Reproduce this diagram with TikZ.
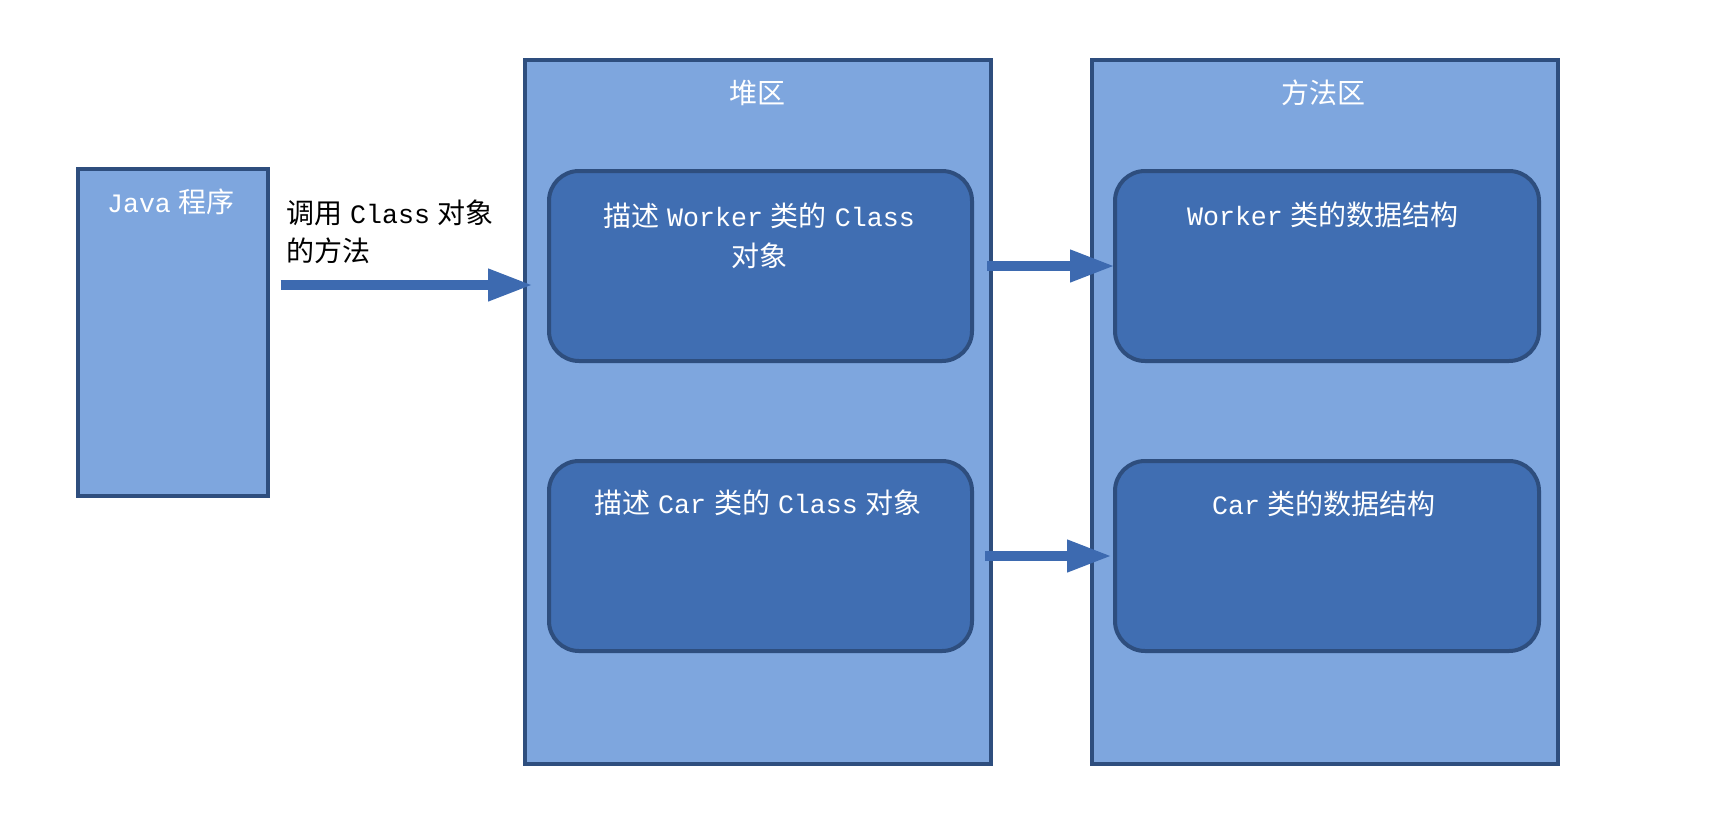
\documentclass[tikz,border=0pt]{standalone}
\usepackage{fontspec}
\setmainfont[Scale=0.95,WordSpace=0.5]{Liberation Mono}
\newfontfamily\cjk{Noto Sans CJK SC}
\usetikzlibrary{arrows.meta}
\definecolor{lightb}{RGB}{126,166,222}
\definecolor{edgeb}{RGB}{46,78,126}
\definecolor{innerb}{RGB}{64,110,178}
\definecolor{arrowb}{RGB}{61,106,176}
\begin{document}
\begin{tikzpicture}[x=1pt,y=-1pt,
  area/.style={draw=edgeb, fill=lightb, line width=4pt, rectangle, inner sep=0pt},
  inbox/.style={draw=edgeb, fill=innerb, line width=4pt, rounded corners=30pt, rectangle, inner sep=0pt},
  txt/.style={font=\fontsize{28}{40}\selectfont, text=white, align=center, inner sep=0pt},
  lbl/.style={font=\fontsize{28}{38}\selectfont, text=black, align=left, inner sep=0pt},
  arr/.style={draw=arrowb, line width=10pt, -{Triangle[length=45pt,width=30pt]}}]
\useasboundingbox[fill=white] (0,0) rectangle (1712,838);

\node[area, minimum width=190pt, minimum height=327pt] (java) at (172.5,332.5) {};
\node[area, minimum width=466pt, minimum height=704pt] (heap) at (758,412) {};
\node[area, minimum width=466pt, minimum height=704pt] (meth) at (1325,412) {};

\node[inbox, minimum width=423pt, minimum height=190pt] (wcls) at (760.5,266) {};
\node[inbox, minimum width=423pt, minimum height=190pt] (ccls) at (760.5,556) {};
\node[inbox, minimum width=424pt, minimum height=190pt] (wdata) at (1327,266) {};
\node[inbox, minimum width=424pt, minimum height=190pt] (cdata) at (1327,556) {};

\node[txt] (javat) at (171,202) {Java {\cjk 程序}};
\node[txt] (heapt) at (757,93) {\cjk 堆区};
\node[txt] (metht) at (1323,93) {\cjk 方法区};
\node[txt] (wclst) at (759,236) {{\cjk 描述} Worker {\cjk 类的} Class\\{\cjk 对象}};
\node[txt] (cclst) at (758,503) {{\cjk 描述} Car {\cjk 类的} Class {\cjk 对象}};
\node[txt] (wdatat) at (1323,215) {Worker {\cjk 类的数据结构}};
\node[txt] (cdatat) at (1324,504) {Car {\cjk 类的数据结构}};
\node[lbl, anchor=west] (call) at (286,232) {{\cjk 调用} Class {\cjk 对象}\\{\cjk 的方法}};

\draw[arr] ([shift={(11,-47.5)}]java.east) -- ([shift={(10,-127)}]heap.west);
\draw[arr] ([xshift=13pt]wcls.east) -- ([xshift=2pt]wdata.west);
\draw[arr] ([xshift=11pt]ccls.east) -- ([xshift=-1pt]cdata.west);
\end{tikzpicture}
\end{document}
